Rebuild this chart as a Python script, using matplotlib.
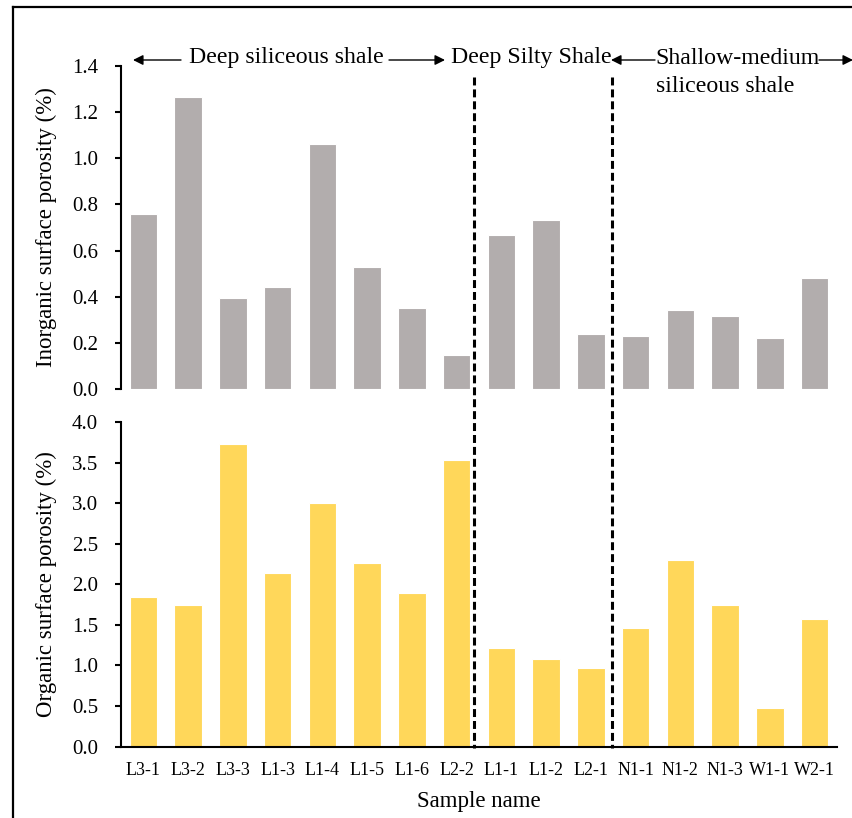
import matplotlib
matplotlib.use("Agg")
import matplotlib.pyplot as plt
from matplotlib.lines import Line2D
from matplotlib.patches import FancyArrowPatch
from matplotlib.transforms import blended_transform_factory
import numpy as np

samples = ["L3-1", "L3-2", "L3-3", "L1-3", "L1-4", "L1-5", "L1-6", "L2-2",
           "L1-1", "L1-2", "L2-1", "N1-1", "N1-2", "N1-3", "W1-1", "W2-1"]
inorganic = [0.757, 1.263, 0.394, 0.443, 1.063, 0.531, 0.353, 0.147,
             0.668, 0.733, 0.241, 0.232, 0.344, 0.316, 0.222, 0.482]
organic = [1.84, 1.75, 3.73, 2.14, 3.01, 2.27, 1.89, 3.53,
           1.22, 1.08, 0.97, 1.46, 2.30, 1.74, 0.47, 1.57]
group_breaks = [7.39, 10.47]

W, H = 853, 818
plt.rcParams["font.family"] = ["Liberation Serif", "DejaVu Serif"]
fig = plt.figure(figsize=(W / 100, H / 100), dpi=100)


def fx(x):
    return x / W


def fy(y):
    return 1 - y / H


left, right = fx(121), fx(837)
ax1 = fig.add_axes([left, fy(389.3), right - left, fy(65.7) - fy(389.3)])
ax2 = fig.add_axes([left, fy(746.5), right - left, fy(422.3) - fy(746.5)])

x = np.arange(len(samples))
ax1.bar(x, inorganic, width=0.62, color="#B2ADAD", edgecolor="white", linewidth=0.8)
ax2.bar(x, organic, width=0.62, color="#FFD75A", edgecolor="white", linewidth=0.8)

for ax in (ax1, ax2):
    ax.set_xlim(-0.5, len(samples) - 0.5)
    for s in ("top", "right"):
        ax.spines[s].set_visible(False)
    ax.spines["left"].set_linewidth(1.5)
    ax.tick_params(axis="y", direction="out", length=4.5, width=1.5, labelsize=15, pad=12)
    ax.yaxis.set_label_coords(-0.089, 0.5)

ax1.set_ylim(0, 1.4)
ax1.set_yticks(np.arange(0, 1.41, 0.2))
ax1.set_yticklabels([f"{v:.1f}" for v in np.arange(0, 1.41, 0.2)])
ax1.spines["bottom"].set_visible(False)
ax1.set_xticks([])
ax1.set_ylabel("Inorganic surface porosity (%)", fontsize=16.5)

ax2.set_ylim(0, 4.0)
ax2.set_yticks(np.arange(0, 4.01, 0.5))
ax2.set_yticklabels([f"{v:.1f}" for v in np.arange(0, 4.01, 0.5)])
ax2.spines["bottom"].set_linewidth(1.5)
ax2.set_xticks(x)
ax2.set_xticklabels(samples)
ax2.tick_params(axis="x", length=0, labelsize=13, pad=11)
ax2.set_ylabel("Organic surface porosity (%)", fontsize=16.5)
ax2.set_xlabel("Sample name", fontsize=16.5, labelpad=9)

# dashed group separators spanning both panels
trans = blended_transform_factory(ax2.transData, fig.transFigure)
for b in group_breaks:
    fig.add_artist(Line2D([b, b], [fy(77), fy(748)], transform=trans, color="black",
                          lw=2.2, linestyle=(0, (2.6, 1.3))))

# group annotations
ty = fy(58)
fig.text(fx(189), ty, "Deep siliceous shale", fontsize=17.2, ha="left", va="center")
fig.text(fx(451), ty, "Deep Silty Shale", fontsize=17.2, ha="left", va="center")
fig.text(fx(655), ty, "Shallow-medium", fontsize=17.2, ha="left", va="center")
fig.text(fx(656), fy(86), "siliceous shale", fontsize=17.2, ha="left", va="center")

ay = fy(60)
for x0, x1 in [(181, 133), (389, 445), (655, 611), (819, 853)]:
    fig.add_artist(FancyArrowPatch((fx(x0), ay), (fx(x1), ay), transform=fig.transFigure,
                                   arrowstyle="-|>", mutation_scale=15, lw=1,
                                   color="black", shrinkA=0, shrinkB=0))

# outer frame (left and top edges)
fig.add_artist(Line2D([fx(13.5), fx(13.5)], [0, fy(6.7)], transform=fig.transFigure,
                      color="black", lw=1.6))
fig.add_artist(Line2D([fx(13.5), 1], [fy(6.7), fy(6.7)], transform=fig.transFigure,
                      color="black", lw=1.6))

fig.savefig("out.png", dpi=100)
